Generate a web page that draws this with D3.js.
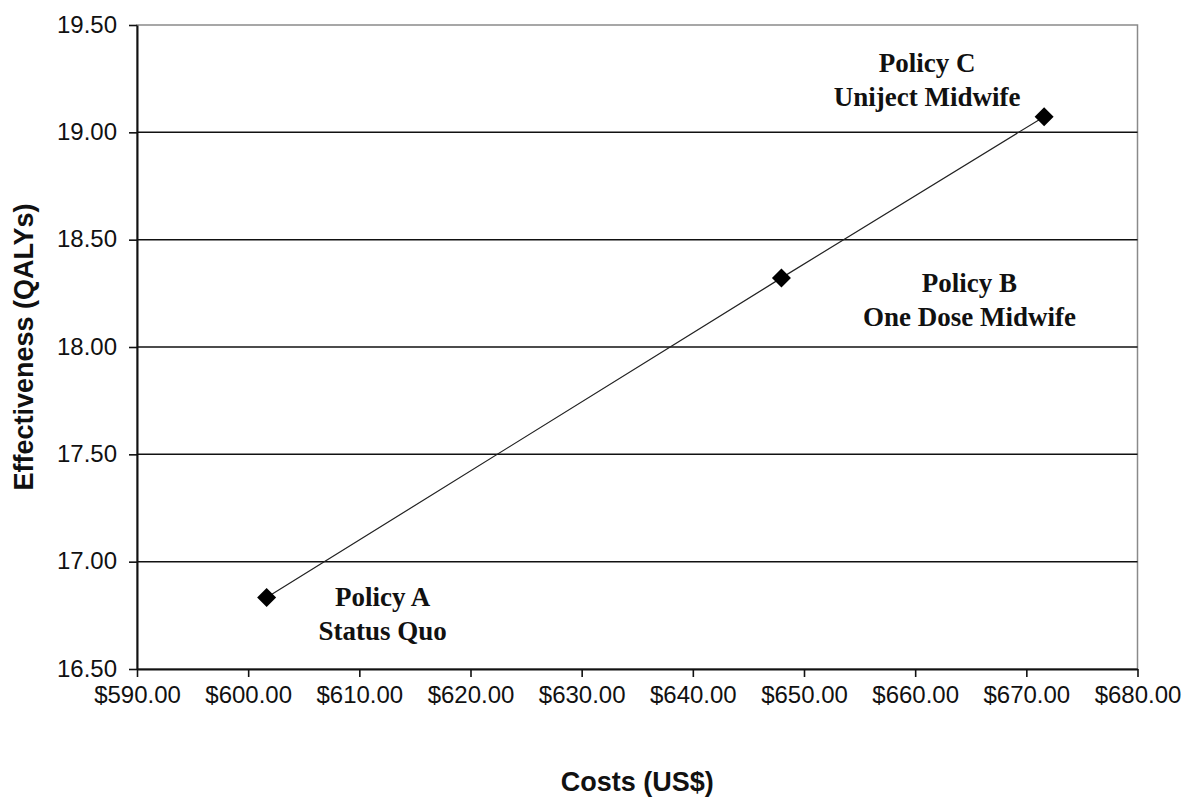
<!DOCTYPE html>
<html>
<head>
<meta charset="utf-8">
<script src="https://cdn.jsdelivr.net/npm/d3@7"></script>
<style>
  html, body { margin: 0; padding: 0; background: #fff; }
  svg { display: block; }
</style>
</head>
<body>
<svg id="chart" width="1193" height="798"></svg>
<script>
// Cost-effectiveness of three delivery policies
const policies = ["Policy A", "Policy B", "Policy C"];
const policyNames = ["Status Quo", "One Dose Midwife", "Uniject Midwife"];
const costs = [601.66, 647.97, 671.6];
const qalys = [16.833, 18.322, 19.073];
const xTicks = [590, 600, 610, 620, 630, 640, 650, 660, 670, 680];
const yTicks = [16.5, 17.0, 17.5, 18.0, 18.5, 19.0, 19.5];

const svg = d3.select("#chart");
const plot = { left: 137, right: 1137.5, top: 25, bottom: 669 };

const x = d3.scaleLinear().domain([590, 680]).range([plot.left, plot.right]);
const y = d3.scaleLinear().domain([16.5, 19.5]).range([plot.bottom, plot.top]);

// grey frame on the top and right
svg.append("rect")
  .attr("x", plot.left).attr("y", plot.top)
  .attr("width", plot.right - plot.left).attr("height", plot.bottom - plot.top)
  .attr("fill", "#fff").attr("stroke", "#8a8a8a").attr("stroke-width", 1.5);

// horizontal gridlines
svg.append("g")
  .selectAll("line")
  .data(yTicks.filter(v => v > 16.5 && v < 19.5))
  .join("line")
  .attr("x1", plot.left).attr("x2", plot.right)
  .attr("y1", d => y(d)).attr("y2", d => y(d))
  .attr("stroke", "#111").attr("stroke-width", 1.5);

// axes
const fmtCost = d => "$" + d.toFixed(2);
const xAxis = svg.append("g")
  .attr("transform", `translate(0,${plot.bottom})`)
  .call(d3.axisBottom(x).tickValues(xTicks).tickFormat(fmtCost).tickSize(8).tickPadding(9).tickSizeOuter(0));
const yAxis = svg.append("g")
  .attr("transform", `translate(${plot.left},0)`)
  .call(d3.axisLeft(y).tickValues(yTicks).tickFormat(d => d.toFixed(2)).tickSize(8).tickPadding(12).tickSizeOuter(0));

[xAxis, yAxis].forEach(g => {
  g.select(".domain").attr("stroke", "#111").attr("stroke-width", 2);
  g.selectAll(".tick line").attr("stroke", "#111").attr("stroke-width", 1.6);
  g.selectAll(".tick text")
    .attr("fill", "#111")
    .style("font-family", "'Liberation Sans', Arial, sans-serif")
    .style("font-size", "24px");
});
yAxis.selectAll(".tick text").attr("dy", "0.3em");

// axis titles
svg.append("text")
  .attr("x", (plot.left + plot.right) / 2).attr("y", 791)
  .attr("text-anchor", "middle")
  .style("font-family", "'Liberation Sans', Arial, sans-serif")
  .style("font-weight", "bold").style("font-size", "27px")
  .attr("fill", "#111")
  .text("Costs (US$)");

svg.append("text")
  .attr("transform", `translate(33,${(plot.top + plot.bottom) / 2}) rotate(-90)`)
  .attr("text-anchor", "middle")
  .style("font-family", "'Liberation Sans', Arial, sans-serif")
  .style("font-weight", "bold").style("font-size", "27px")
  .attr("fill", "#111")
  .text("Effectiveness (QALYs)");

// frontier line and markers
const pts = costs.map((c, i) => ({ c, q: qalys[i], policy: policies[i], name: policyNames[i] }));

svg.append("path")
  .datum(pts)
  .attr("fill", "none")
  .attr("stroke", "#222")
  .attr("stroke-width", 1.2)
  .attr("d", d3.line().x(d => x(d.c)).y(d => y(d.q)));

svg.append("g")
  .selectAll("path")
  .data(pts)
  .join("path")
  .attr("transform", d => `translate(${x(d.c)},${y(d.q)})`)
  .attr("d", "M0,-9.5L9.5,0L0,9.5L-9.5,0Z")
  .attr("fill", "#000");

// policy labels, offset from their markers
const labelOffsets = [[116, 8], [188, 14], [-117, -45]];
const labels = svg.append("g")
  .selectAll("text")
  .data(pts)
  .join("text")
  .attr("text-anchor", "middle")
  .style("font-family", "'Liberation Serif', 'Times New Roman', serif")
  .style("font-weight", "bold").style("font-size", "27px")
  .attr("fill", "#111");

labels.each(function (d, i) {
  const [dx, dy] = labelOffsets[i];
  const t = d3.select(this);
  const cx = x(d.c) + dx, cy = y(d.q) + dy;
  t.append("tspan").attr("x", cx).attr("y", cy).text(d.policy);
  t.append("tspan").attr("x", cx).attr("y", cy + 34).text(d.name);
});
</script>
</body>
</html>
